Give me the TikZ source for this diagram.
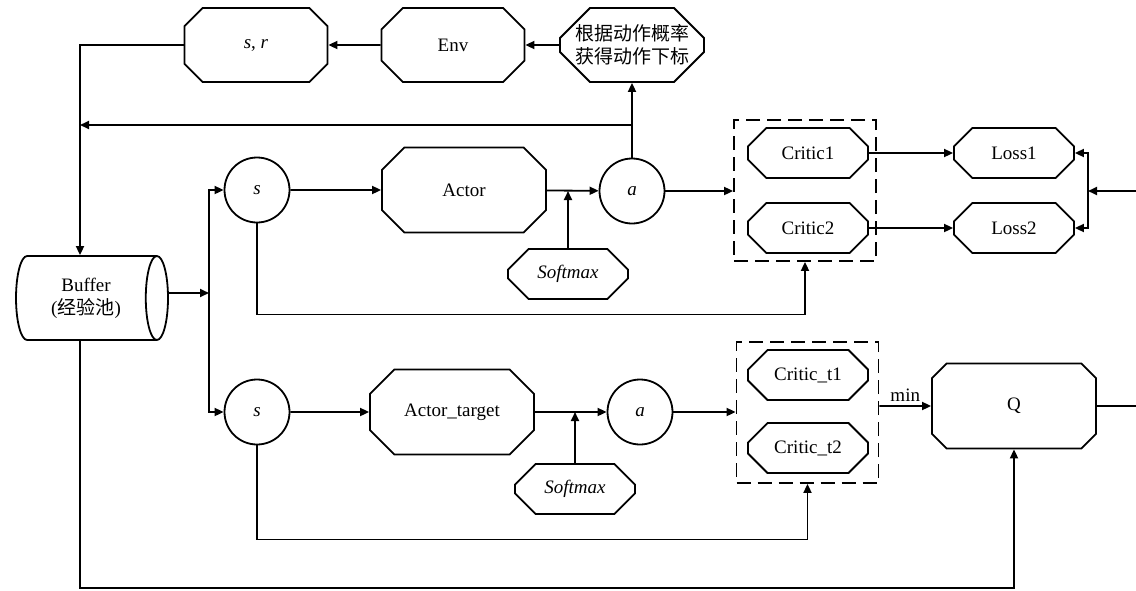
\documentclass[tikz,border=0pt]{standalone}
\usepackage{fontspec}
\setmainfont{Liberation Serif}
\newfontfamily\cjk{Noto Sans CJK SC}
\usepackage{tikz}
\usetikzlibrary{arrows.meta, shapes.misc, shapes.geometric}

\tikzset{
  every node/.style={font=\fontsize{19}{23}\selectfont},
  bigbox/.style={draw, chamfered rectangle, chamfered rectangle xsep=15pt, chamfered rectangle ysep=15pt, minimum width=143pt, minimum height=74pt, inner sep=0pt},
  netbox/.style={bigbox, minimum width=164pt, minimum height=85pt, chamfered rectangle xsep=16pt, chamfered rectangle ysep=16pt},
  smallbox/.style={draw, chamfered rectangle, chamfered rectangle xsep=12pt, chamfered rectangle ysep=12pt, minimum width=120pt, minimum height=50pt, inner sep=0pt},
  var/.style={draw, circle, minimum size=65pt, inner sep=0pt},
  group/.style={draw, dash pattern=on 14pt off 7pt, minimum width=142pt, minimum height=141pt, inner sep=0pt},
  pool/.style={draw, cylinder, shape aspect=0.55, minimum width=84pt, minimum height=152pt, inner sep=0pt, align=center}
}

\begin{document}
\begin{tikzpicture}[x=1pt, y=-1pt, line width=1.8pt, >={Triangle[length=9pt,width=8pt]}]
\useasboundingbox (0,0) rectangle (1136,590);

% top row
\node[bigbox] (sr) at (256,45) {\textit{s}, \textit{r}};
\node[bigbox] (env) at (453,45) {Env};
\node[bigbox, align=center] (idx) at (632,45) {{\cjk 根据动作概率}\\{\cjk 获得动作下标}};

% buffer
\node[pool] (buf) at (86,298) {Buffer\\({\cjk 经验池})};
\coordinate (trunk) at (80,125);
\coordinate (split) at (209,293);
\coordinate (bot) at (80,588);

% actor branch
\node[var] (s1) at (257,190) {\textit{s}};
\node[netbox] (actor) at (464,190) {Actor};
\node[smallbox] (sm1) at (568,274) {\textit{Softmax}};
\node[var] (a1) at (632,191) {\textit{a}};
\node[group] (grp1) at (805,190.5) {};
\node[smallbox] (c1) at (808,153) {Critic1};
\node[smallbox] (c2) at (808,228) {Critic2};
\node[smallbox] (l1) at (1014,153) {Loss1};
\node[smallbox] (l2) at (1014,228) {Loss2};
\coordinate (rj) at (1088,191);
\coordinate (rin) at (1136,191);

% target branch
\node[var] (s2) at (257,412) {\textit{s}};
\node[netbox] (at) at (452,412) {Actor\_target};
\node[smallbox] (sm2) at (575,489) {\textit{Softmax}};
\node[var] (a2) at (640,412) {\textit{a}};
\node[group] (grp2) at (807.5,412.5) {};
\node[smallbox] (ct1) at (808,375) {Critic\_t1};
\node[smallbox] (ct2) at (808,448) {Critic\_t2};
\node[netbox] (q) at (1014,406) {Q};
\coordinate (qout) at (1136,406);

\draw [->] (idx) -- (env);
\draw [->] (env) -- (sr);
\draw [->] (sr.west) -| ([xshift=-6pt]buf.north);
\draw [->] (a1.north) -- (idx.south);
\draw [->] (a1.north |- trunk) -- (trunk);

\draw [->] ([yshift=5pt]buf.east) -- (split);
\draw [->] (split) |- (s1);
\draw [->] (split) |- (s2);

\draw [->] (s1) -- (actor);
\draw [->] (actor) -- (a1);
\draw [->] (sm1.north) -- (sm1.north |- a1);
\draw [->] (a1.east) -- (a1.east -| grp1.west);
\draw [->] (c1) -- (l1);
\draw [->] (c2) -- (l2);
\draw [->] (rin) -- (rj);
\draw [->] (rj) |- (l1);
\draw [->] (rj) |- (l2);
\draw [->] (s1.south) -- ++(0,91) -| (grp1.south);

\draw [->] (s2) -- (at);
\draw [->] (at) -- (a2);
\draw [->] (sm2.north) -- (sm2.north |- a2);
\draw [->] (a2.east) -- (a2.east -| grp2.west);
\draw [->] (grp2.east |- q) -- (q) node[midway, above] {min};
\draw (q) -- (qout);
\draw [->] (s2.south) -- ++(0,94) -| (grp2.south);
\draw [->] ([xshift=-6pt]buf.south) -- (bot) -| (q.south);
\end{tikzpicture}
\end{document}
